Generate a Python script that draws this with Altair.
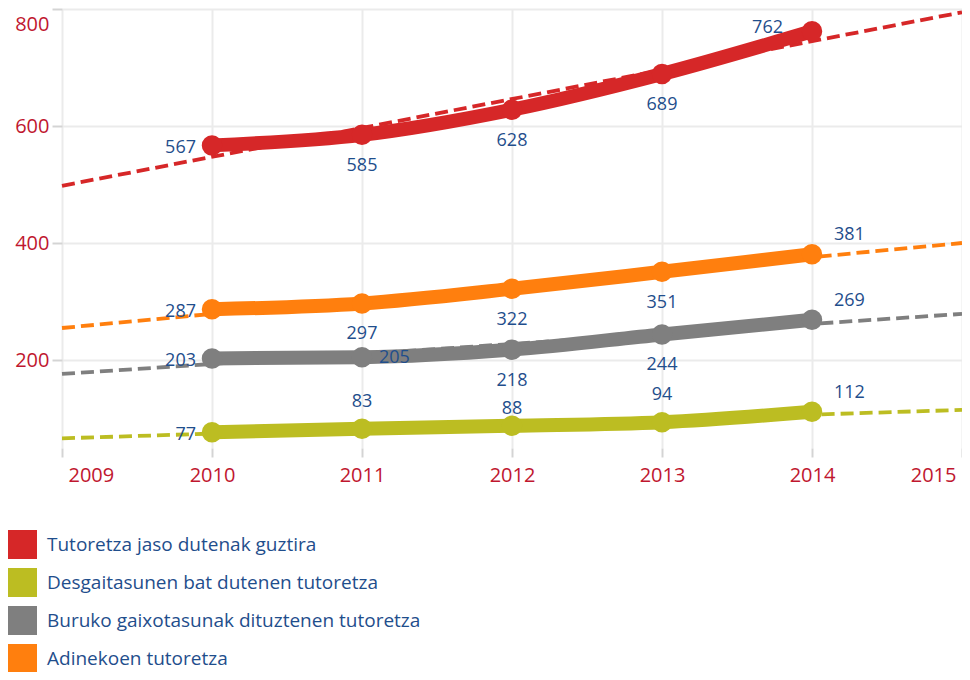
import altair as alt
import pandas as pd

years = [2010, 2011, 2012, 2013, 2014]
series_names = [
    "Tutoretza jaso dutenak guztira",
    "Desgaitasunen bat dutenen tutoretza",
    "Buruko gaixotasunak dituztenen tutoretza",
    "Adinekoen tutoretza",
]
total = [567, 585, 628, 689, 762]
desgaitasun = [77, 83, 88, 94, 112]
buruko = [203, 205, 218, 244, 269]
adineko = [287, 297, 322, 351, 381]
colors = ["#D62728", "#BCBD22", "#7F7F7F", "#FF7F0E"]

# where each value label sits relative to its point
spots_total = ["left", "below", "below", "below", "endleft"]
spots_desg = ["left", "above", "abovenear", "above", "end"]
spots_buruko = ["left", "right", "below", "below", "end"]
spots_adineko = ["left", "below", "below", "below", "end"]

x_ticks = [2009, 2010, 2011, 2012, 2013, 2014, 2015]
y_ticks = [200, 400, 600, 800]

rows = []
for name, vals, spots in zip(
    series_names,
    [total, desgaitasun, buruko, adineko],
    [spots_total, spots_desg, spots_buruko, spots_adineko],
):
    for yr, v, s in zip(years, vals, spots):
        rows.append({"year": yr, "value": v, "series": name, "spot": s})
df = pd.DataFrame(rows)

BLUE = "#1F4E8C"
RED = "#C0172F"
FONT = "Open Sans"

x_enc = alt.X(
    "year:Q",
    scale=alt.Scale(domain=[2009, 2015], nice=False, zero=False),
    axis=alt.Axis(values=x_ticks, format="d", title=None, labelFlush=True,
                  labelFlushOffset=-6, tickSize=9, labelPadding=8, grid=True),
)
y_enc = alt.Y(
    "value:Q",
    scale=alt.Scale(domain=[50, 800], nice=False, zero=False),
    axis=alt.Axis(values=y_ticks, title=None, labelFlush=True,
                  labelFlushOffset=-5, tickSize=10, labelPadding=3, grid=True),
)
color_scale = alt.Scale(domain=series_names, range=colors)

base = alt.Chart(df)

trend = base.transform_regression(
    "year", "value", groupby=["series"], extent=[2009, 2015]
).mark_line(strokeDash=[13, 6], strokeWidth=3.8).encode(
    x=x_enc, y=y_enc,
    stroke=alt.Stroke("series:N", scale=color_scale, legend=None),
)

lines = base.mark_line(strokeWidth=14, interpolate="monotone").encode(
    x=x_enc, y=y_enc,
    stroke=alt.Stroke("series:N", scale=color_scale, legend=None),
    detail="series:N",
)

points = base.mark_circle(size=420, opacity=1).encode(
    x=x_enc, y=y_enc,
    color=alt.Color(
        "series:N", scale=color_scale,
        legend=alt.Legend(
            orient="none", legendX=-54, legendY=521, direction="vertical",
            title=None, symbolType="square", symbolSize=841,
            symbolStrokeWidth=0, symbolOpacity=1, labelFont=FONT,
            labelFontSize=19, labelColor=BLUE, labelOffset=10,
            rowPadding=9, labelLimit=600,
        ),
    ),
)

spot_styles = {
    "left": dict(align="right", dx=-16, dy=3),
    "below": dict(align="center", dx=0, dy=31),
    "above": dict(align="center", dx=0, dy=-27),
    "abovenear": dict(align="center", dx=0, dy=-17),
    "right": dict(align="left", dx=17, dy=1),
    "end": dict(align="left", dx=22, dy=-19),
    "endleft": dict(align="right", dx=-29, dy=-3),
}

texts = []
for key, st in spot_styles.items():
    texts.append(
        base.transform_filter(alt.datum.spot == key).mark_text(
            baseline="middle", font=FONT, fontSize=18, color=BLUE, **st
        ).encode(x=x_enc, y=y_enc, text="value:Q")
    )

chart = alt.layer(trend, lines, points, *texts).properties(
    width=900,
    height=439,
    padding={"left": 54, "top": 1, "right": 0, "bottom": 224},
    autosize=alt.AutoSizeParams(type="none"),
    background="white",
).resolve_legend(
    color="independent", stroke="independent"
).configure_view(stroke=None).configure_axis(
    domain=False,
    labelColor=RED,
    labelFont=FONT,
    labelFontSize=20,
    tickColor="#D4D4D4",
    tickWidth=2,
    gridColor="#EBEBEB",
    gridWidth=2,
)

chart.save("out.html", embed_options={"renderer": "svg", "actions": False})
